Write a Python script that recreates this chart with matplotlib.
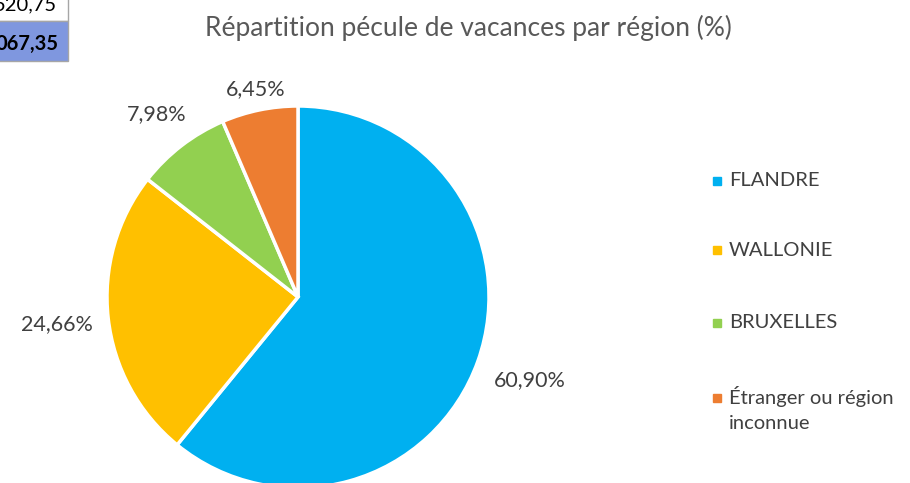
import matplotlib.pyplot as plt
from matplotlib.patches import Rectangle
import numpy as np

plt.rcParams['font.family'] = ['Lato', 'DejaVu Sans']

# données
regions = ['FLANDRE', 'WALLONIE', 'BRUXELLES', 'Étranger ou région\ninconnue']
pourcentages = [60.90, 24.66, 7.98, 6.45]
etiquettes = ['60,90%', '24,66%', '7,98%', '6,45%']
couleurs = ['#00B0F0', '#FFC000', '#92D050', '#ED7D31']

# fragments du tableau (coupés en haut à gauche)
cellules = ['520,75', '067,35']

fig = plt.figure(figsize=(9.10, 4.83), dpi=100)
ax = fig.add_axes([0, 0, 1, 1])

# camembert en coordonnées pixels (y vers le haut)
cx, cy, r = 298, 483 - 297, 191
wedges, _ = ax.pie(pourcentages, colors=couleurs, startangle=90, counterclock=False,
                   center=(cx, cy), radius=r,
                   wedgeprops=dict(edgecolor='white', linewidth=2.5))
ax.set_xlim(0, 910)
ax.set_ylim(0, 483)
ax.set_aspect('equal')
ax.axis('off')

# étiquettes des pourcentages
dist = [1.29, 1.27, 1.21, 1.11]
for w, lab, d in zip(wedges, etiquettes, dist):
    ang = np.deg2rad((w.theta1 + w.theta2) / 2)
    ax.text(cx + d * r * np.cos(ang), cy + d * r * np.sin(ang), lab,
            ha='center', va='center', fontsize=15.5, color='#404040')

# titre
fig.text(468 / 910, 1 - 28 / 483, 'Répartition pécule de vacances par région (%)',
         ha='center', va='center', fontsize=19, color='#595959')

# légende
leg_y = [181, 250, 323, 398]
for nom, c, y in zip(regions, couleurs, leg_y):
    ax.add_patch(Rectangle((713, 483 - y - 4), 8, 8, color=c, clip_on=False))
    if '\n' in nom:
        ax.text(729, 483 - y + 12, nom, ha='left', va='top',
                fontsize=14.5, color='#404040', linespacing=1.55)
    else:
        ax.text(729, 483 - y, nom, ha='left', va='center',
                fontsize=14.5, color='#404040')

# morceau du tableau Excel
ax.add_patch(Rectangle((-2, 483 - 21), 70, 23, facecolor='white', edgecolor='#A6A6A6', lw=1))
ax.add_patch(Rectangle((-2, 483 - 61), 70, 40, facecolor='#7F97DF', edgecolor='#A6A6A6', lw=1))
ax.text(57, 483 - 5, cellules[0], ha='right', va='center', fontsize=14.5, color='black')
ax.text(58, 483 - 44, cellules[1], ha='right', va='center', fontsize=14.5,
        color='black', fontweight='bold')

fig.savefig('out.png', dpi=100)
